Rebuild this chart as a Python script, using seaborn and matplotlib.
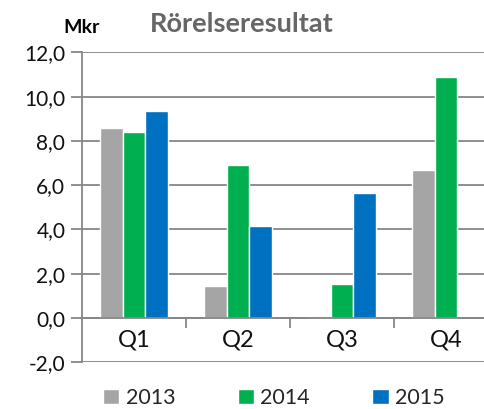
import numpy as np
import pandas as pd
import matplotlib
matplotlib.use("Agg")
import matplotlib.pyplot as plt
import seaborn as sns

quarters = ["Q1", "Q2", "Q3", "Q4"]
years = ["2013", "2014", "2015"]
v2013 = [8.6, 1.45, -0.05, 6.7]
v2014 = [8.42, 6.9, 1.52, 10.9]
v2015 = [9.37, 4.17, 5.66, np.nan]
colors = ["#A5A5A5", "#00B050", "#0070C0"]
yticks = [-2, 0, 2, 4, 6, 8, 10, 12]

rows = []
for yr, vals in zip(years, [v2013, v2014, v2015]):
    for q, v in zip(quarters, vals):
        rows.append({"Kvartal": q, "År": yr, "Värde": v})
df = pd.DataFrame(rows).dropna()

sns.set_theme(style="white")
plt.rcParams["font.family"] = ["Lato", "DejaVu Sans"]

fig = plt.figure(figsize=(4.84, 4.09), dpi=100)
ax = fig.add_axes([0.1694, 0.1142, 1.0289 - 0.1694, 0.8721 - 0.1142])

sns.barplot(data=df, x="Kvartal", y="Värde", hue="År", order=quarters,
            hue_order=years, palette=colors, width=0.66, errorbar=None,
            saturation=1, ax=ax, legend=True)

ax.set_ylim(-2, 12)
ax.set_xlim(-0.5, 3.5)
ax.set_yticks(yticks)
ax.set_yticklabels([f"{t:.1f}".replace(".", ",") for t in yticks], fontsize=15, color="#111111")
ax.yaxis.grid(True, color="#868686", linewidth=1.3)
ax.set_axisbelow(True)
ax.tick_params(axis="y", length=8, color="#868686", width=1.3, pad=4, left=True)
ax.set_xlabel("")
ax.set_ylabel("")

for s in ["top", "right"]:
    ax.spines[s].set_visible(False)
ax.spines["left"].set_color("#868686")
ax.spines["left"].set_linewidth(1.3)
ax.spines["bottom"].set_position(("data", 0))
ax.spines["bottom"].set_color("#868686")
ax.spines["bottom"].set_linewidth(1.3)
ax.set_xticks([0.5, 1.5, 2.5])
ax.set_xticklabels(["", "", ""])
ax.tick_params(axis="x", length=7, color="#868686", width=1.3, bottom=True, direction="out")

for i, q in enumerate(quarters):
    ax.text(i, -1.0, q, ha="center", va="center", fontsize=17, color="#111111")

fig.text(0.13, 0.932, "Mkr", fontsize=14, fontweight="bold", color="black", ha="left", va="center")
fig.text(0.31, 0.942, "Rörelseresultat", fontsize=19.5, fontweight="bold", color="#666666",
         ha="left", va="center")

handles, labels = ax.get_legend_handles_labels()
ax.get_legend().remove()
fig.legend(handles, labels, loc="center", bbox_to_anchor=(0.566, 0.027), ncol=3,
           frameon=False, fontsize=15.5, handlelength=0.75, handleheight=0.75,
           handletextpad=0.3, columnspacing=2.9)

fig.savefig("out.png", dpi=100)
